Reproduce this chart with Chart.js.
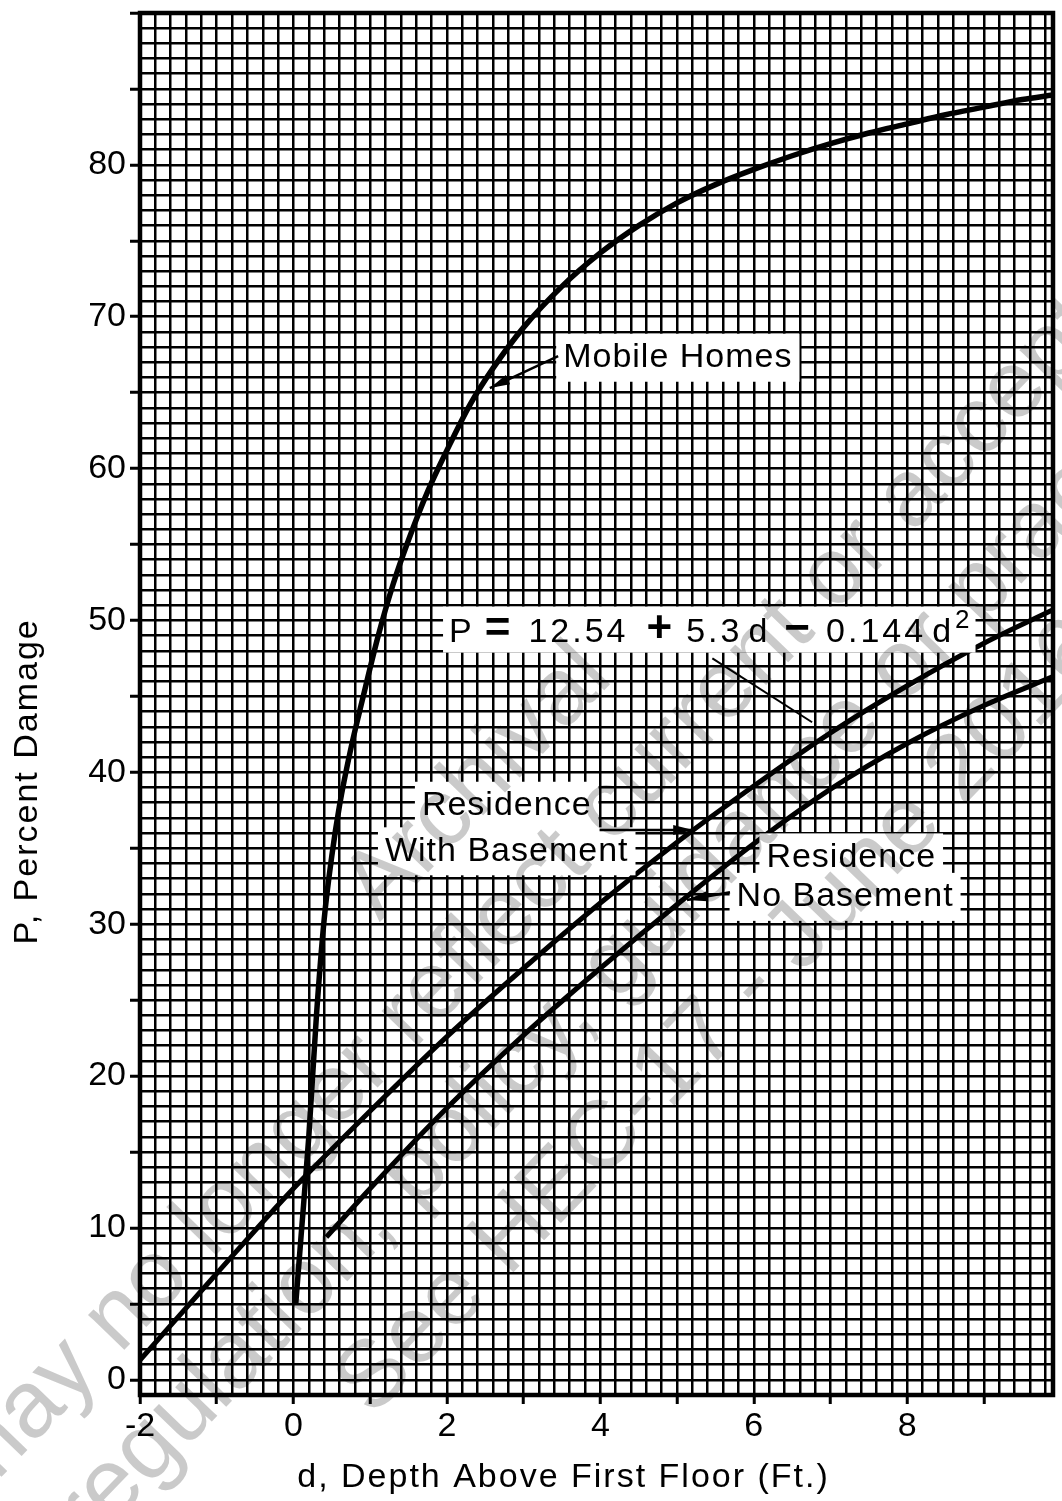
<!DOCTYPE html>
<html>
<head>
<meta charset="utf-8">
<script src="https://cdn.jsdelivr.net/npm/chart.js@4.4.1/dist/chart.umd.min.js"></script>
<style>
  html, body { margin: 0; padding: 0; background: #fff; }
  #wrap { width: 1062px; height: 1501px; }
</style>
</head>
<body>
<div id="wrap"><canvas id="chart" width="1062" height="1501"></canvas></div>
<script>
// Depth of flooding above the first floor (ft) and percent damage, per curve
const mobileDepth  = [0.03, 0.1, 0.2, 0.3, 0.4, 0.5, 0.6, 0.75, 0.9, 1.1, 1.3, 1.5, 1.75, 2.0, 2.3, 2.6, 3.0, 3.5, 4.0, 4.5, 5.0, 5.5, 6.0, 6.5, 7.0, 7.5, 8.0, 8.5, 9.0, 9.5, 9.9];
const mobileDamage = [5.0, 9.5, 16.0, 24.0, 30.3, 34.5, 37.8, 41.6, 44.8, 48.9, 52.4, 55.3, 58.5, 61.2, 64.2, 66.6, 69.3, 72.0, 74.2, 76.0, 77.5, 78.7, 79.7, 80.6, 81.4, 82.1, 82.7, 83.3, 83.8, 84.3, 84.6];

const basementDepth  = [-2, -1, 0, 1, 2, 3, 4, 5, 6, 7, 8, 9, 9.9];
const basementDamage = [1.3, 7.0, 12.6, 17.7, 22.6, 27.1, 31.4, 35.4, 39.1, 42.6, 45.7, 48.5, 50.7];

const noBasementDepth  = [0.43, 1, 2, 3, 4, 5, 6, 7, 8, 9, 9.9];
const noBasementDamage = [9.4, 12.6, 17.9, 22.7, 27.1, 31.3, 35.3, 38.9, 41.9, 44.4, 46.3];

// Labelled ticks
const xTickLabels = [-2, 0, 2, 4, 6, 8];
const yTickLabels = [0, 10, 20, 30, 40, 50, 60, 70, 80];

// Axis titles
const xTitle = 'd, Depth Above First Floor (Ft.)';
const yTitle = 'P, Percent Damage';

// Curve names placed on the sheet (anchor in data units: depth, damage)
const curveLabels = [
  { text: 'Mobile Homes',  at: [5.01, 67.3] },
  { text: 'Residence',     at: [2.78, 37.8] },
  { text: 'With Basement', at: [2.78, 34.8] },
  { text: 'Residence',     at: [7.27, 34.4] },
  { text: 'No Basement',   at: [7.19, 31.8] }
];

// Leader lines from the names to the curves
const pointers = [
  { from: [3.45, 67.4], to: [2.56, 65.3], head: true },
  { from: [3.99, 36.2], to: [5.21, 36.2], head: true },
  { from: [5.69, 32.1], to: [5.13, 31.6], head: true },
  { from: [5.46, 47.5], to: [6.76, 43.3], head: false }
];

// Fitted equation for the residence-with-basement curve
const equationAt = [5.42, 49.4];
const equationParts = [
  { t: 'P',     kind: 'r', gap: 0 },
  { t: '=',     kind: 'b', gap: 10 },
  { t: '12.54', kind: 'r', gap: 18 },
  { t: '+',     kind: 'b', gap: 18 },
  { t: '5.3',   kind: 'r', gap: 14 },
  { t: 'd',     kind: 'r', gap: 6 },
  { t: '\u2212', kind: 'b', gap: 14 },
  { t: '0.144', kind: 'r', gap: 16 },
  { t: 'd',     kind: 'r', gap: 6 },
  { t: '2',     kind: 's', gap: 1 }
];

// Archival stamp printed across the sheet
const stampLines = [
  'Archival',
  'may no longer reflect current or accepted',
  'regulation, policy, guidance or practice.',
  'See HEC-17 - June 2016'
];

const FONT = "'Liberation Sans', Arial, Helvetica, sans-serif";
const toPoints = (xs, ys) => xs.map((x, i) => ({ x: x, y: ys[i] }));
const near = (v, list) => list.some(t => Math.abs(t - v) < 1e-6);
const isWhole = v => Math.abs(v - Math.round(v)) < 1e-6;

const sheetPlugin = {
  id: 'sheet',
  beforeDraw(chart) {
    const c = chart.ctx;
    c.save();
    c.fillStyle = '#fff';
    c.fillRect(0, 0, chart.width, chart.height);
    c.restore();
  },
  afterDatasetsDraw(chart) {
    const c = chart.ctx, a = chart.chartArea;
    const sx = chart.scales.x, sy = chart.scales.y;
    const P = (d, p) => [sx.getPixelForValue(d), sy.getPixelForValue(p)];
    c.save();

    // heavy border round the graph paper
    c.lineWidth = 4.5;
    c.strokeStyle = '#000';
    c.strokeRect(a.left, a.top, a.right - a.left, a.bottom - a.top);

    // white boxes behind the curve names
    c.font = '34px ' + FONT;
    c.letterSpacing = '1px';
    c.fillStyle = '#fff';
    curveLabels.forEach(l => {
      const [x, y] = P(l.at[0], l.at[1]);
      const w = c.measureText(l.text).width;
      c.fillRect(x - w / 2 - 7, y - 24, w + 14, 48);
    });

    // equation: measure parts
    const fontFor = k => k === 'b' ? 'bold 44px ' + FONT : (k === 's' ? '26px ' + FONT : '34px ' + FONT);
    let total = 0;
    const widths = equationParts.map(p => {
      c.font = fontFor(p.kind);
      c.letterSpacing = p.kind === 'r' ? '3px' : '0px';
      const w = c.measureText(p.t).width;
      total += p.gap + w;
      return w;
    });
    const [ex, ey] = P(equationAt[0], equationAt[1]);
    c.fillStyle = '#fff';
    c.fillRect(ex - total / 2 - 6, ey - 23, total + 12, 46);

    // text of the curve names
    c.fillStyle = '#000';
    c.textAlign = 'center';
    c.textBaseline = 'middle';
    c.font = '34px ' + FONT;
    c.letterSpacing = '1px';
    curveLabels.forEach(l => {
      const [x, y] = P(l.at[0], l.at[1]);
      c.fillText(l.text, x, y);
    });

    // equation text on a common baseline
    c.textAlign = 'left';
    c.textBaseline = 'alphabetic';
    let cx = ex - total / 2;
    const base = ey + 12;
    equationParts.forEach((p, i) => {
      cx += p.gap;
      c.font = fontFor(p.kind);
      c.letterSpacing = p.kind === 'r' ? '3px' : '0px';
      c.fillText(p.t, cx, p.kind === 's' ? base - 14 : base);
      cx += widths[i];
    });
    c.letterSpacing = '0px';

    // leader lines and arrowheads
    c.strokeStyle = '#000';
    c.fillStyle = '#000';
    pointers.forEach(pt => {
      const [x1, y1] = P(pt.from[0], pt.from[1]);
      const [x2, y2] = P(pt.to[0], pt.to[1]);
      c.lineWidth = pt.head ? 2.5 : 2;
      c.beginPath();
      c.moveTo(x1, y1);
      c.lineTo(x2, y2);
      c.stroke();
      if (pt.head) {
        const ang = Math.atan2(y2 - y1, x2 - x1), L = 20, W = 5;
        const bx = x2 - L * Math.cos(ang), by = y2 - L * Math.sin(ang);
        c.beginPath();
        c.moveTo(x2, y2);
        c.lineTo(bx + W * Math.sin(ang), by - W * Math.cos(ang));
        c.lineTo(bx - W * Math.sin(ang), by + W * Math.cos(ang));
        c.closePath();
        c.fill();
      }
    });

    // axis titles
    c.font = '34px ' + FONT;
    c.letterSpacing = '2px';
    c.textAlign = 'center';
    c.textBaseline = 'middle';
    c.fillText(xTitle, sx.getPixelForValue(3.52), a.bottom + 83);
    c.save();
    c.translate(28, sy.getPixelForValue(39.4));
    c.rotate(-Math.PI / 2);
    c.fillText(yTitle, 0, 0);
    c.restore();
    c.letterSpacing = '0px';

    c.restore();
  },
  afterDraw(chart) {
    // grey archival stamp, multiplied so black ink stays black
    const c = chart.ctx;
    c.save();
    c.globalCompositeOperation = 'multiply';
    c.translate(chart.width * 0.565, chart.height * 0.6);
    c.rotate(-46 * Math.PI / 180);
    c.font = '95px ' + FONT;
    c.fillStyle = '#cacaca';
    c.textAlign = 'center';
    c.textBaseline = 'middle';
    stampLines.forEach((t, i) => c.fillText(t, 0, (i - 1.5) * 113));
    c.restore();
  }
};

const lineStyle = {
  borderColor: '#000',
  borderWidth: 5,
  pointRadius: 0,
  fill: false,
  cubicInterpolationMode: 'monotone'
};

new Chart(document.getElementById('chart'), {
  type: 'line',
  data: {
    datasets: [
      Object.assign({ label: 'Mobile Homes', data: toPoints(mobileDepth, mobileDamage) }, lineStyle, { borderWidth: 5.5 }),
      Object.assign({ label: 'Residence With Basement', data: toPoints(basementDepth, basementDamage) }, lineStyle),
      Object.assign({ label: 'Residence No Basement', data: toPoints(noBasementDepth, noBasementDamage) }, lineStyle)
    ]
  },
  options: {
    responsive: false,
    animation: false,
    layout: { padding: { top: 13, right: 9, left: 0, bottom: 0 } },
    plugins: { legend: { display: false }, tooltip: { enabled: false } },
    scales: {
      x: {
        type: 'linear',
        min: -2,
        max: 9.9,
        border: { display: false },
        grid: {
          color: '#000',
          lineWidth: 2.5,
          drawTicks: true,
          tickLength: 9,
          tickWidth: 3,
          tickColor: ctx => (ctx.tick && isWhole(ctx.tick.value)) ? '#000' : 'rgba(0,0,0,0)'
        },
        ticks: {
          stepSize: 0.2,
          includeBounds: false,
          autoSkip: false,
          maxRotation: 0,
          minRotation: 0,
          padding: 2,
          color: '#000',
          font: { family: FONT, size: 34 },
          callback: v => near(v, xTickLabels) ? String(Math.round(v)) : ''
        },
        afterFit: s => { s.height = 106; s.paddingLeft = 0; s.paddingRight = 0; }
      },
      y: {
        type: 'linear',
        min: -1,
        max: 90,
        border: { display: false },
        grid: {
          color: '#000',
          lineWidth: 2.5,
          drawTicks: true,
          tickLength: 10,
          tickWidth: 3,
          tickColor: ctx => (ctx.tick && isWhole(ctx.tick.value / 5)) ? '#000' : 'rgba(0,0,0,0)'
        },
        ticks: {
          stepSize: 1,
          includeBounds: false,
          autoSkip: false,
          padding: 4,
          color: '#000',
          font: { family: FONT, size: 34 },
          callback: v => near(v, yTickLabels) ? String(Math.round(v)) : ''
        },
        afterFit: s => { s.width = 140; s.paddingTop = 0; s.paddingBottom = 0; }
      }
    }
  },
  plugins: [sheetPlugin]
});
</script>
</body>
</html>
